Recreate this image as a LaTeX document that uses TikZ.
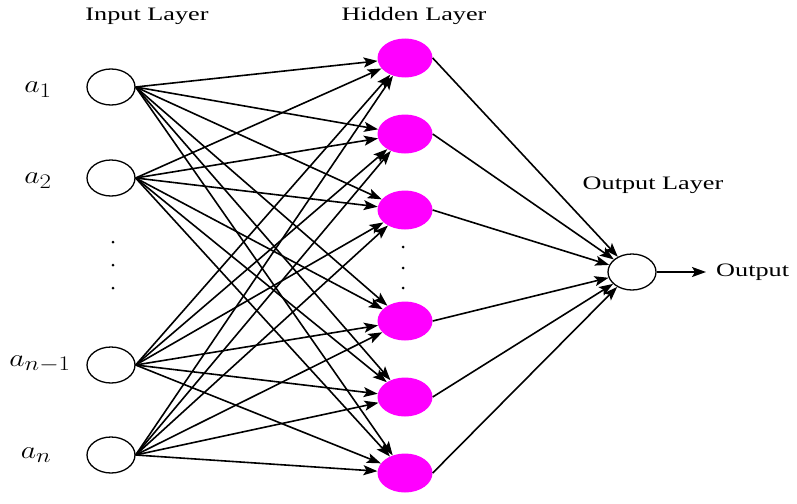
\documentclass[tikz,border=0pt]{standalone}
\usepackage{graphicx}
\usepackage{fontspec}
\setmainfont{Liberation Serif}
\usetikzlibrary{shapes.geometric,arrows.meta}
\definecolor{hid}{RGB}{255,0,255}
\newcommand{\sxt}[1]{\scalebox{1.38}[1]{#1}}
\newcommand{\sxm}[1]{\scalebox{1.2}[1]{#1}}
\tikzset{
  inneur/.style={ellipse,draw=black,line width=1.3pt,fill=white,minimum width=48pt,minimum height=36pt,inner sep=0pt},
  hidneur/.style={ellipse,fill=hid,draw=none,minimum width=55pt,minimum height=39pt,inner sep=0pt},
  arr/.style={line width=1.6pt,-{Stealth[length=14pt,width=10pt,inset=3pt]}},
  ttl/.style={font=\fontsize{19}{22}\selectfont,inner sep=0pt},
  mlab/.style={font=\fontsize{29}{33}\selectfont,inner sep=0pt},
  dotn/.style={circle,fill=black,inner sep=0pt,minimum size=3pt}
}
\begin{document}
\begin{tikzpicture}[x=1pt,y=-1pt]
\useasboundingbox (0,0) rectangle (797,503);
% titles
\node[ttl] (tin) at (147,16) {\sxt{Input Layer}};
\node[ttl] (thid) at (414,16) {\sxt{Hidden Layer}};
\node[ttl] (tout) at (653,185) {\sxt{Output Layer}};
% input nodes
\node[inneur] (i1) at (111,87) {};
\node[inneur] (i2) at (111,178) {};
\node[inneur] (i3) at (111,365) {};
\node[inneur] (i4) at (111,455) {};
% input labels
\node[mlab] (l1) at (38,90) {\sxm{$a_1$}};
\node[mlab] (l2) at (38,181) {\sxm{$a_2$}};
\node[mlab] (l3) at (40,364) {\sxm{$a_{n-1}$}};
\node[mlab] (l4) at (36,455) {\sxm{$a_n$}};
% input dots
\node[dotn] (d1) at (113,242) {};
\node[dotn] (d2) at (113,265) {};
\node[dotn] (d3) at (113,288) {};
% hidden nodes
\node[hidneur] (h1) at (405,58) {};
\node[hidneur] (h2) at (405,134) {};
\node[hidneur] (h3) at (405,210) {};
\node[hidneur] (h4) at (405,321) {};
\node[hidneur] (h5) at (405,397) {};
\node[hidneur] (h6) at (405,473) {};
% hidden dots
\node[dotn] (e1) at (403,247) {};
\node[dotn] (e2) at (403,268) {};
\node[dotn] (e3) at (403,288) {};
% output
\node[inneur] (o) at (632,272) {};
\node[ttl,anchor=west] (otxt) at (716,272) {\sxt{Output}};
% connections input -> hidden
\foreach \i in {1,2,3,4}{
  \foreach \h in {1,...,6}{
    \draw[arr] (i\i.east) -- (h\h);
  }
}
% hidden -> output
\foreach \h in {1,...,6}{
  \draw[arr] (h\h.east) -- (o);
}
\draw[arr] (o.east) -- ([xshift=-10pt]otxt.west);
\end{tikzpicture}
\end{document}
